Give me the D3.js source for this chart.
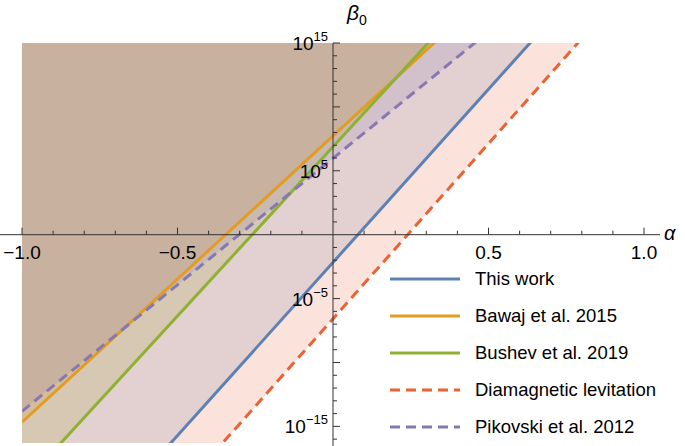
<!DOCTYPE html>
<html><head><meta charset="utf-8">
<script src="https://cdn.jsdelivr.net/npm/d3@7"></script>
<style>body{margin:0;background:#fff}text{font-family:"Liberation Sans",Arial,sans-serif}</style>
</head><body><div id="chart"></div>
<script>
// log10(beta0) = slope * (alpha - alpha0)
const names = ["This work", "Bawaj et al. 2015", "Bushev et al. 2019", "Diamagnetic levitation", "Pikovski et al. 2012"];
const slopes = [27.1, 22.4, 26.5, 27.4, 19.8];
const alpha0 = [0.08, -0.345, -0.26, 0.24, -0.302];
const colors = ["#5e81b5", "#e19c24", "#8fb032", "#eb6235", "#8778b3"];
const dashed = [false, false, false, true, true];
const xTicks = [-1, -0.5, 0.5, 1];
const yTicks = [15, 5, -5, -15];

const svg = d3.select("#chart").append("svg").attr("width", 685).attr("height", 446);
const x = d3.scaleLinear().domain([-1, 1]).range([22, 644]);
const y = d3.scaleLinear().domain([-16.3, 15]).range([443, 43]);

svg.append("clipPath").attr("id", "clip").append("rect")
  .attr("x", 22).attr("y", 43).attr("width", 663).attr("height", 400);
const plot = svg.append("g").attr("clip-path", "url(#clip)");

const line = (i, a) => slopes[i] * (a - alpha0[i]);
const aMax = 1.2;
// shaded region above each line
names.forEach((n, i) => {
  const pts = [[-1, 20], [-1, line(i, -1)], [aMax, line(i, aMax)], [aMax, 20]];
  plot.append("polygon")
    .attr("points", pts.map(p => x(p[0]) + "," + y(p[1])).join(" "))
    .style("fill", colors[i]).style("opacity", 0.18);
});
names.forEach((n, i) => {
  plot.append("line")
    .attr("x1", x(-1)).attr("y1", y(line(i, -1)))
    .attr("x2", x(aMax)).attr("y2", y(line(i, aMax)))
    .attr("stroke", colors[i]).attr("stroke-width", 3)
    .attr("stroke-dasharray", dashed[i] ? "10,6" : null);
});

// axes
const ax = svg.append("g").attr("stroke", "#333").attr("stroke-width", 1);
ax.append("line").attr("x1", 0).attr("x2", 660).attr("y1", y(0)).attr("y2", y(0));
ax.append("line").attr("x1", x(0)).attr("x2", x(0)).attr("y1", 43).attr("y2", 446);
d3.range(-10, 11).forEach(k => {
  if (k === 0) return;
  const len = k % 5 === 0 ? 7 : 4;
  ax.append("line").attr("x1", x(k / 10)).attr("x2", x(k / 10))
    .attr("y1", y(0)).attr("y2", y(0) - len);
});
d3.range(-16, 16).forEach(k => {
  if (k === 0) return;
  const len = k % 5 === 0 ? 7 : 4;
  ax.append("line").attr("x1", x(0)).attr("x2", x(0) + len)
    .attr("y1", y(k)).attr("y2", y(k));
});
xTicks.forEach(t => {
  svg.append("text").attr("x", x(t)).attr("y", y(0) + 24).attr("text-anchor", "middle")
    .attr("font-size", 19).text(t < 0 ? "\u2212" + Math.abs(t).toFixed(1) : t.toFixed(1));
});
yTicks.forEach(t => {
  const tx = svg.append("text").attr("x", x(0) - 5).attr("y", y(t) + 7)
    .attr("text-anchor", "end").attr("font-size", 19).text("10");
  tx.append("tspan").attr("dy", -9).attr("font-size", 13).text(t < 0 ? "\u2212" + Math.abs(t) : t);
});
svg.append("text").attr("x", 347).attr("y", 20).attr("font-size", 21)
  .attr("font-style", "italic").attr("font-family", "DejaVu Serif").text("β")
  .append("tspan").attr("dy", 5).attr("font-size", 14).attr("font-style", "normal").text("0");
svg.append("text").attr("x", 664).attr("y", y(0) + 5).attr("font-size", 20)
  .attr("font-style", "italic").attr("font-family", "DejaVu Serif").text("α");

// legend
const leg = svg.append("g").attr("transform", "translate(390,279)");
names.forEach((n, i) => {
  const g = leg.append("g").attr("transform", `translate(0,${i * 37})`);
  g.append("line").attr("x1", 0).attr("x2", 70).attr("stroke", colors[i]).attr("stroke-width", 3)
    .attr("stroke-dasharray", dashed[i] ? "10,6" : null);
  g.append("text").attr("x", 85).attr("y", 6).attr("font-size", 18.5).text(n);
});
</script></body></html>
